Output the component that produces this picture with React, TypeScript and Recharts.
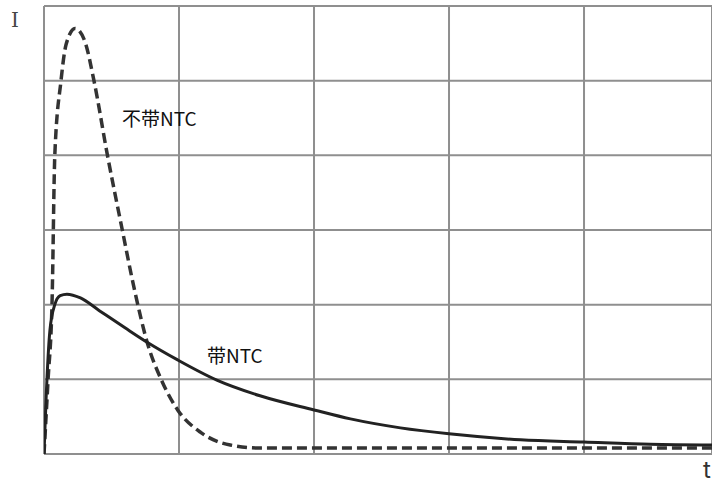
import React from "react";
import { LineChart, Line, XAxis, YAxis, CartesianGrid } from "recharts";

// 带NTC (solid)
const ntcT = [0, 0.015, 0.044, 0.08, 0.12, 0.17, 0.27, 0.41, 0.6, 0.77, 0.99, 1.28, 1.6, 2.0, 2.27, 2.64, 3.0, 3.53, 4.0, 4.49, 4.95];
const ntcI = [0, 0.72, 1.66, 2.0, 2.12, 2.14, 2.09, 1.92, 1.69, 1.49, 1.26, 0.99, 0.78, 0.59, 0.47, 0.35, 0.27, 0.19, 0.16, 0.13, 0.12];

// 不带NTC (dashed)
const rawT = [0, 0.03, 0.06, 0.08, 0.126, 0.163, 0.23, 0.3, 0.37, 0.47, 0.58, 0.67, 0.77, 0.87, 0.99, 1.16, 1.38, 1.6, 2.2, 3.0, 4.0, 4.95];
const rawI = [0, 0.99, 2.06, 4.0, 5.0, 5.48, 5.7, 5.54, 5.0, 4.0, 3.0, 2.2, 1.46, 0.99, 0.59, 0.29, 0.12, 0.08, 0.08, 0.08, 0.08, 0.08];

const xTicks = [0, 1, 2, 3, 4];
const yTicks = [0, 1, 2, 3, 4, 5, 6];

const ntcData = ntcT.map((t, i) => ({ t, v: ntcI[i] }));
const rawData = rawT.map((t, i) => ({ t, v: rawI[i] }));

const cjk = '"Noto Sans CJK SC", "Noto Sans", sans-serif';
const noTick = () => <g />;

export default function App() {
  return (
    <div style={{ position: "absolute", left: 0, top: 0, width: 712, height: 484, background: "#fff" }}>
      <LineChart width={712} height={484} margin={{ top: 6, right: 0, bottom: 30, left: 44 }}>
        <CartesianGrid stroke="#8f8f8f" strokeWidth={2} horizontal vertical />
        <XAxis
          type="number"
          dataKey="t"
          domain={[0, 4.948]}
          ticks={xTicks}
          allowDataOverflow
          tick={noTick}
          tickLine={false}
          axisLine={false}
          height={0}
        />
        <YAxis
          type="number"
          domain={[0, 6]}
          ticks={yTicks}
          tick={noTick}
          tickLine={false}
          axisLine={false}
          width={0}
        />
        <Line
          data={rawData}
          dataKey="v"
          type="monotone"
          stroke="#333"
          strokeWidth={3.5}
          strokeDasharray="10 5"
          dot={false}
          isAnimationActive={false}
        />
        <Line
          data={ntcData}
          dataKey="v"
          type="monotone"
          stroke="#222"
          strokeWidth={3}
          dot={false}
          isAnimationActive={false}
        />
      </LineChart>
      <div style={{ position: "absolute", left: 11, top: 8, fontFamily: '"DejaVu Serif", serif', fontSize: 20, color: "#444" }}>I</div>
      <div style={{ position: "absolute", left: 703, top: 455, fontFamily: "Inter, sans-serif", fontSize: 24, color: "#333" }}>t</div>
      <div style={{ position: "absolute", left: 122, top: 104, fontFamily: cjk, fontSize: 19, lineHeight: "28px", color: "#111" }}>不带NTC</div>
      <div style={{ position: "absolute", left: 207, top: 341, fontFamily: cjk, fontSize: 19, lineHeight: "28px", color: "#111" }}>带NTC</div>
    </div>
  );
}
